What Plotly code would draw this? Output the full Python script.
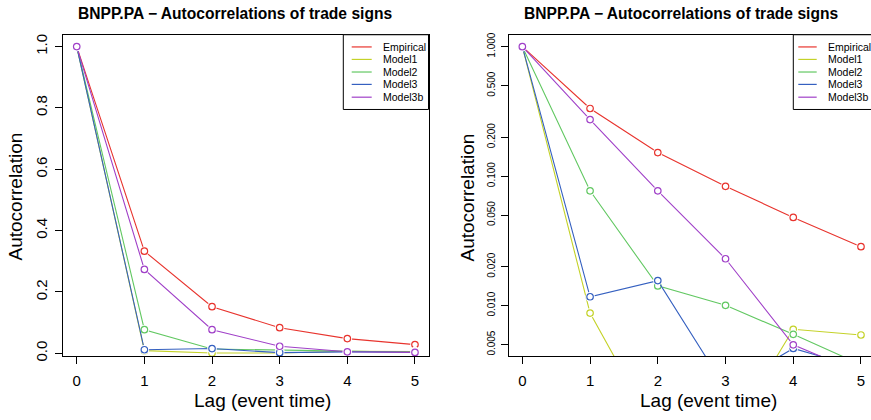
import plotly.graph_objects as go

W, H = 871, 420

# ---------------- data ----------------
lags = [0, 1, 2, 3, 4, 5]
series_names = ["Empirical", "Model1", "Model2", "Model3", "Model3b"]
empirical = [1.0, 0.333, 0.152, 0.0835, 0.048, 0.0285]
model1 = [1.0, 0.00875, 0.0010, 0.0009, 0.00656, 0.00593]
model2 = [1.0, 0.0770, 0.0142, 0.01005, 0.0060, 0.0035]
model3 = [1.0, 0.0117, 0.0156, 0.0023, 0.00467, 0.0033]
model3b = [1.0, 0.2735, 0.077, 0.023, 0.00498, 0.0030]
series_values = [empirical, model1, model2, model3, model3b]
colors = ["#E8342E", "#C4D228", "#62C862", "#3560C0", "#A040C8"]

title_text = "BNPP.PA \u2212 Autocorrelations of trade signs"
xlab = "Lag (event time)"
ylab = "Autocorrelation"
lin_ticks = [0.0, 0.2, 0.4, 0.6, 0.8, 1.0]
lin_labels = ["0.0", "0.2", "0.4", "0.6", "0.8", "1.0"]
log_ticks = [0.005, 0.01, 0.02, 0.05, 0.1, 0.2, 0.5, 1.0]
log_labels = ["0.005", "0.010", "0.020", "0.050", "0.100", "0.200", "0.500", "1.000"]

FONT = "Liberation Sans, Arial, Helvetica, sans-serif"

def px(x):
    return x / W

def py(y):
    return 1 - y / H

fig = go.Figure()

for ax_i, (xa, ya) in enumerate([("x", "y"), ("x2", "y2")]):
    for name, vals, col in zip(series_names, series_values, colors):
        fig.add_trace(go.Scatter(x=lags, y=vals, mode="lines", line=dict(color=col, width=1.1),
                                 xaxis=xa, yaxis=ya, showlegend=False, hoverinfo="skip"))
        fig.add_trace(go.Scatter(x=lags, y=vals, mode="markers",
                                 marker=dict(color="white", size=9.5, line=dict(width=0)),
                                 xaxis=xa, yaxis=ya, showlegend=False, hoverinfo="skip"))
        fig.add_trace(go.Scatter(x=lags, y=vals, mode="markers", name=name,
                                 marker=dict(symbol="circle-open", color=col, size=6.5,
                                             line=dict(width=1.2, color=col)),
                                 xaxis=xa, yaxis=ya, showlegend=False))

# plot areas (pixels)
L_left, L_right = 63.2, 428.5
R_left = 508.8
top, bottom = 33.3, 360.5

axis_common = dict(showgrid=False, zeroline=False, showline=True, linecolor="black", linewidth=1,
                   ticks="outside", ticklen=7, tickcolor="black", tickwidth=1)
xfont = dict(family=FONT, size=15, color="black")

fig.update_layout(
    width=W, height=H, margin=dict(l=0, r=0, t=0, b=0),
    paper_bgcolor="white", plot_bgcolor="white",
    xaxis=dict(domain=[px(L_left), px(L_right)], range=[-0.2, 5.2], tickvals=lags,
               mirror=True, anchor="y", tickfont=xfont, ticklabelstandoff=4, **axis_common),
    yaxis=dict(domain=[py(bottom), py(top)], range=[-0.0103, 1.0385], tickvals=lin_ticks,
               ticktext=lin_labels, tickangle=-90, mirror=True, anchor="x",
               tickfont=dict(family=FONT, size=15, color="black"), ticklabelstandoff=2, **axis_common),
    xaxis2=dict(domain=[px(R_left), 1.0], range=[-0.2, 5.148], tickvals=lags,
                mirror=True, anchor="y2", tickfont=xfont, ticklabelstandoff=4, **axis_common),
    yaxis2=dict(domain=[py(bottom), py(top)], type="log", range=[-2.393, 0.092],
                tickvals=log_ticks, ticktext=log_labels, tickangle=-90, mirror=False, anchor="x2",
                tickfont=dict(family=FONT, size=10, color="black"), ticklabelstandoff=2, **axis_common),
)

ann = []
shapes = []
# titles
for cx in (234.5, 680.5):
    ann.append(dict(text="<b>" + title_text + "</b>", x=px(cx), y=py(11.5), xref="paper", yref="paper",
                    xanchor="center", yanchor="middle", showarrow=False,
                    font=dict(family=FONT, size=15.6, color="black")))
# axis titles
for cx in (262.5, 708.3):
    ann.append(dict(text=xlab, x=px(cx), y=py(405), xref="paper", yref="paper",
                    xanchor="center", yanchor="middle", showarrow=False,
                    font=dict(family=FONT, size=19, color="black")))
for cx in (15.5, 467.5):
    ann.append(dict(text=ylab, x=px(cx), y=py(198.3), xref="paper", yref="paper",
                    xanchor="center", yanchor="middle", showarrow=False, textangle=-90,
                    font=dict(family=FONT, size=19, color="black")))

# legends (drawn manually to match R's compact legend)
row_y = [45.7, 58.4, 71.2, 83.8, 96.8]
for box_l, box_r, ln0, ln1, tx in [(343.3, 428.5, 351.7, 371.7, 381.0),
                                    (793.3, 876.0, 798.3, 816.7, 826.0)]:
    shapes.append(dict(type="rect", xref="paper", yref="paper", x0=px(box_l), x1=px(box_r),
                       y0=py(109.3), y1=py(top), line=dict(color="black", width=1),
                       fillcolor="white", layer="above"))
    for name, col, ry in zip(series_names, colors, row_y):
        shapes.append(dict(type="line", xref="paper", yref="paper", x0=px(ln0), x1=px(ln1),
                           y0=py(ry), y1=py(ry), line=dict(color=col, width=1.2), layer="above"))
        ann.append(dict(text=name, x=px(tx), y=py(ry), xref="paper", yref="paper",
                        xanchor="left", yanchor="middle", showarrow=False,
                        font=dict(family=FONT, size=10.5, color="black")))

fig.update_layout(annotations=ann, shapes=shapes)
fig.write_html("out.html")
